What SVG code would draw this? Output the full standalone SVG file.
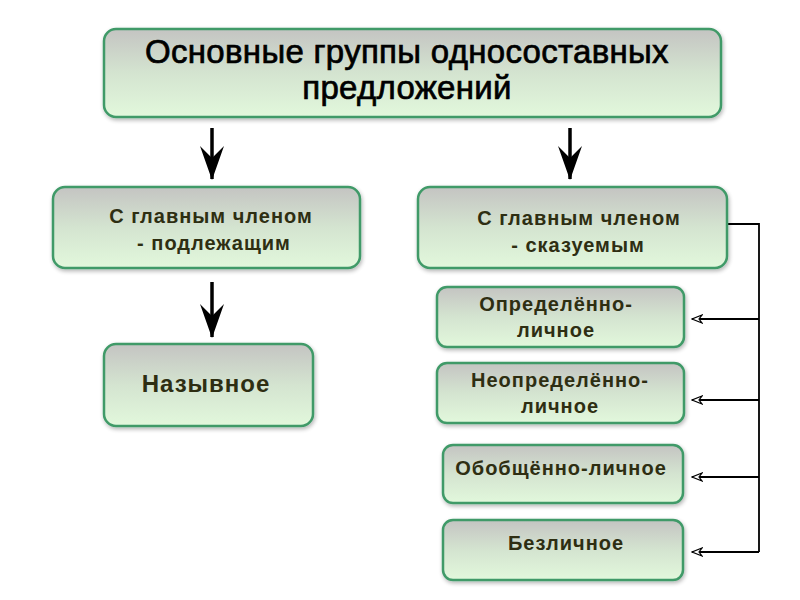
<svg xmlns="http://www.w3.org/2000/svg" width="800" height="600" viewBox="0 0 800 600">
<defs>
<linearGradient id="g" x1="0" y1="0" x2="0" y2="1">
<stop offset="0" stop-color="#c4c4c2"/>
<stop offset="0.5" stop-color="#d4e4d0"/>
<stop offset="1" stop-color="#e2f8dc"/>
</linearGradient>
<filter id="sh" x="-10%" y="-10%" width="120%" height="130%">
<feGaussianBlur in="SourceAlpha" stdDeviation="2"/>
<feOffset dx="1" dy="2" result="b"/>
<feComponentTransfer><feFuncA type="linear" slope="0.3"/></feComponentTransfer>
<feMerge><feMergeNode/><feMergeNode in="SourceGraphic"/></feMerge>
</filter>
<marker id="big" markerUnits="userSpaceOnUse" markerWidth="34" markerHeight="24" viewBox="0 0 34 24" refX="33" refY="12" orient="auto">
<path d="M0,0 L34,12 L0,24 L12,12 z" fill="#000"/>
</marker>
<marker id="small" markerUnits="userSpaceOnUse" markerWidth="12" markerHeight="10" viewBox="0 0 12 10" refX="11" refY="5" orient="auto">
<path d="M1,1 L11,5 L1,9 L4,5 z" fill="#fff" stroke="#000" stroke-width="1.2"/>
</marker>
</defs>
<style>
.box{fill:url(#g);stroke:#3f9a68;stroke-width:2.5;filter:url(#sh)}
.t{font-family:"Liberation Sans",Arial,sans-serif;font-weight:bold;fill:#2e2e12;text-anchor:middle;font-size:20px;letter-spacing:1px}
.title{font-family:"Liberation Sans",Arial,sans-serif;fill:#000;stroke:#000;stroke-width:0.7;text-anchor:middle;font-size:33px;letter-spacing:0.3px}
.thick{stroke:#000;stroke-width:3.5;fill:none;marker-end:url(#big)}
.thin{stroke:#000;stroke-width:1.8;fill:none}
.thinA{stroke:#000;stroke-width:1.8;fill:none;marker-end:url(#small)}
</style>
<rect width="800" height="600" fill="#fff"/>
<g id="connectors">
<line class="thick" x1="212" y1="128" x2="212" y2="179"/>
<line class="thick" x1="570" y1="128" x2="570" y2="179"/>
<line class="thick" x1="212" y1="282" x2="212" y2="337"/>
<polyline class="thin" points="727,224 759,224 759,552"/>
<line class="thinA" x1="759" y1="319" x2="692" y2="319"/>
<line class="thinA" x1="759" y1="400" x2="692" y2="400"/>
<line class="thinA" x1="759" y1="477" x2="692" y2="477"/>
<line class="thinA" x1="759" y1="552" x2="692" y2="552"/>
</g>
<g id="title">
<rect class="box" x="104" y="29" width="617" height="88" rx="12"/>
<text class="title" x="407" y="63">Основные группы односоставных</text>
<text class="title" x="407" y="99">предложений</text>
</g>
<g id="subject">
<rect class="box" x="53" y="187" width="307" height="81" rx="12"/>
<text class="t" x="211" y="223">С главным членом</text>
<text class="t" x="214" y="250">- подлежащим</text>
</g>
<g id="nominative">
<rect class="box" x="104" y="344" width="209" height="82" rx="12"/>
<text class="t" x="206" y="392" style="font-size:24px">Назывное</text>
</g>
<g id="predicate">
<rect class="box" x="418" y="187" width="309" height="81" rx="12"/>
<text class="t" x="579" y="225">С главным членом</text>
<text class="t" x="578" y="252">- сказуемым</text>
</g>
<g id="definite">
<rect class="box" x="437" y="287" width="247" height="60" rx="10"/>
<text class="t" x="556" y="311">Определённо-</text>
<text class="t" x="556" y="337">личное</text>
</g>
<g id="indefinite">
<rect class="box" x="437" y="363" width="247" height="60" rx="10"/>
<text class="t" x="560" y="387">Неопределённо-</text>
<text class="t" x="560" y="413">личное</text>
</g>
<g id="generalized">
<rect class="box" x="443" y="445" width="240" height="58" rx="10"/>
<text class="t" x="561" y="475">Обобщённо-личное</text>
</g>
<g id="impersonal">
<rect class="box" x="443" y="520" width="240" height="60" rx="10"/>
<text class="t" x="566" y="550">Безличное</text>
</g>
</svg>
